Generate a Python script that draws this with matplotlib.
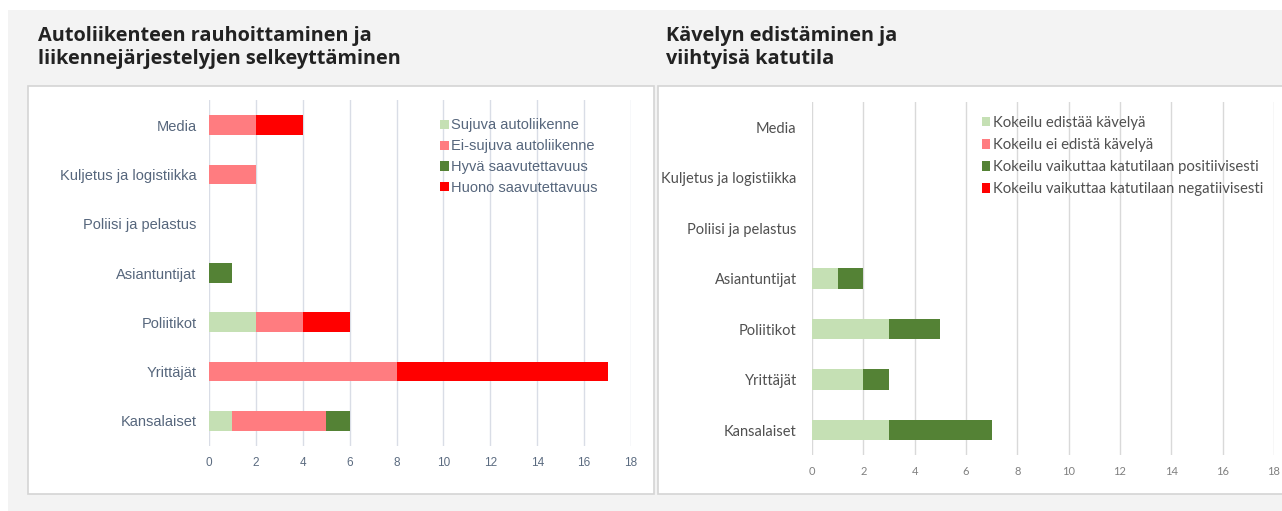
import matplotlib.pyplot as plt
from matplotlib.patches import Rectangle
import numpy as np

# Data
groups = ["Media", "Kuljetus ja logistiikka", "Poliisi ja pelastus", "Asiantuntijat",
          "Poliitikot", "Yrittäjät", "Kansalaiset"]

left_series = ["Sujuva autoliikenne", "Ei-sujuva autoliikenne",
               "Hyvä saavutettavuus", "Huono saavutettavuus"]
sujuva = [0, 0, 0, 0, 2, 0, 1]
ei_sujuva = [2, 2, 0, 0, 2, 8, 4]
hyva = [0, 0, 0, 1, 0, 0, 1]
huono = [2, 0, 0, 0, 2, 9, 0]

right_series = ["Kokeilu edistää kävelyä", "Kokeilu ei edistä kävelyä",
                "Kokeilu vaikuttaa katutilaan positiivisesti",
                "Kokeilu vaikuttaa katutilaan negatiivisesti"]
edistaa = [0, 0, 0, 1, 3, 2, 3]
ei_edista = [0, 0, 0, 0, 0, 0, 0]
positiivinen = [0, 0, 0, 1, 2, 1, 4]
negatiivinen = [0, 0, 0, 0, 0, 0, 0]

ticks = [0, 2, 4, 6, 8, 10, 12, 14, 16, 18]
COLORS = ["#C5E0B4", "#FF7C80", "#548235", "#FF0000"]

W, H = 1282, 511
fig = plt.figure(figsize=(W / 100, H / 100), dpi=100)
fig.patch.set_facecolor("white")


def px(x0, y0, x1, y1):
    # pixel box -> figure fraction [left, bottom, width, height]
    return [x0 / W, 1 - y1 / H, (x1 - x0) / W, (y1 - y0) / H]


# grey page background and white panels
fig.patches.append(Rectangle((8 / W, 0), 1, 1 - 10 / H, transform=fig.transFigure,
                             facecolor="#f3f3f3", edgecolor="none", zorder=0))
for x0, x1 in [(28, 654), (658, 1290)]:
    b = px(x0, 86, x1, 494)
    fig.patches.append(Rectangle((b[0], b[1]), b[2], b[3], transform=fig.transFigure,
                                 facecolor="white", edgecolor="#d4d4d4", lw=1.2, zorder=0.5))

title_kw = dict(fontsize=14.3, fontweight="bold", color="#222222", family="Open Sans",
                va="top", ha="left", linespacing=1.2)
fig.text(38 / W, 1 - 26 / H, "Autoliikenteen rauhoittaminen ja\nliikennejärjestelyjen selkeyttäminen",
         **title_kw)
fig.text(666 / W, 1 - 26 / H, "Kävelyn edistäminen ja\nviihtyisä katutila", **title_kw)


def draw(rect, series_vals, names, family, label_color, tick_color, grid_color,
         label_size, tick_size, ypad, legend_pos, legend_size, legend_gap):
    ax = fig.add_axes(rect)
    ax.set_zorder(2)
    ax.set_facecolor("none")
    y = np.arange(len(groups))
    left = np.zeros(len(groups))
    for vals, name, c in zip(series_vals, names, COLORS):
        ax.barh(y, vals, left=left, height=0.4, color=c, label=name, zorder=3, linewidth=0)
        left += np.array(vals)
    ax.set_xlim(0, 18)
    ax.set_ylim(len(groups) - 0.5, -0.5)
    ax.set_xticks(ticks)
    ax.set_xticklabels([str(t) for t in ticks], family=family, fontsize=tick_size,
                       color=tick_color)
    ax.set_yticks(y)
    ax.set_yticklabels(groups, family=family, fontsize=label_size, color=label_color)
    ax.tick_params(length=0)
    ax.tick_params(axis="x", pad=8)
    ax.tick_params(axis="y", pad=ypad)
    ax.grid(axis="x", color=grid_color, lw=1, zorder=0)
    for s in ax.spines.values():
        s.set_visible(False)
    leg = ax.legend(loc="upper left", bbox_to_anchor=legend_pos, frameon=False,
                    prop={"family": family, "size": legend_size},
                    handlelength=0.6, handleheight=0.6, handletextpad=0.15,
                    labelspacing=legend_gap, borderaxespad=0, borderpad=0)
    for t in leg.get_texts():
        t.set_color(label_color)
    return ax


draw(px(209, 100.5, 631, 445.5), [sujuva, ei_sujuva, hyva, huono], left_series,
     "Liberation Sans", "#56667c", "#5b6b80", "#d9dde6", 10.5, 8.5, 9,
     (0.547, 0.948), 10.5, 0.47)
draw(px(812, 101.75, 1274, 455.25), [edistaa, ei_edista, positiivinen, negatiivinen],
     right_series, "Lato", "#505050", "#808080", "#d9d9d9", 10.5, 8, 11,
     (0.367, 0.96), 10.7, 0.55)

fig.savefig("out.png", dpi=100)
